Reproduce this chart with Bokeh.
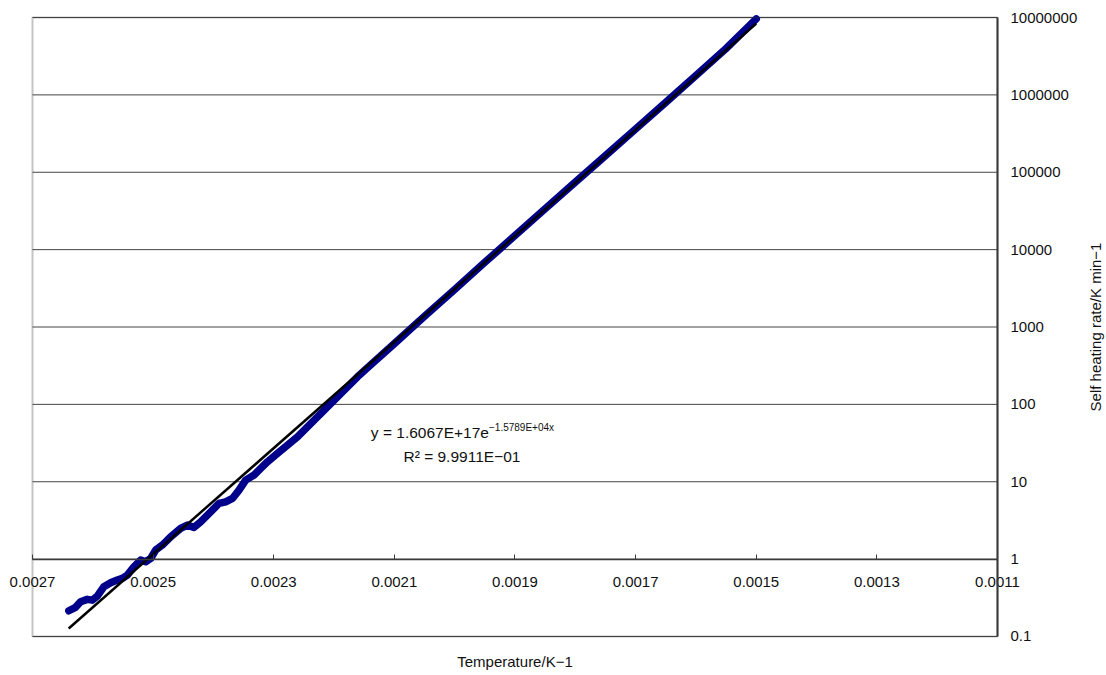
import math

import numpy as np
from bokeh.embed import file_html
from bokeh.models import BoxAnnotation, FixedTicker, Label, Range1d
from bokeh.plotting import figure
from bokeh.resources import INLINE

# Reciprocal temperature (1/K) and measured self-heating rate (K/min)
inv_temp = [
    0.0026398, 0.0026286, 0.0026203, 0.0026092, 0.0026009, 0.0025926,
    0.0025817, 0.0025705, 0.0025594, 0.0025511, 0.0025428, 0.0025319,
    0.0025207, 0.0025124, 0.0025041, 0.0024958, 0.0024847, 0.0024710,
    0.0024544, 0.0024432, 0.0024323, 0.0024212, 0.0024046, 0.0023908,
    0.0023797, 0.0023685, 0.0023576, 0.0023465, 0.0023327, 0.0023216,
    0.0023104, 0.0022938, 0.0022772, 0.0022607, 0.0022441, 0.0022275,
    0.0022109, 0.0021943, 0.0021777, 0.0021611, 0.00214, 0.0021,
    0.00205, 0.0020, 0.00195, 0.0019, 0.00185, 0.0018, 0.00175,
    0.0017, 0.00165, 0.0016, 0.00155, 0.0015,
]
heat_rate = [
    0.215, 0.238, 0.281, 0.302, 0.295, 0.333,
    0.439, 0.494, 0.536, 0.563, 0.621, 0.795,
    0.97, 0.923, 1.02, 1.31, 1.52, 1.94,
    2.49, 2.75, 2.57, 3.03, 4.08, 5.24,
    5.50, 6.08, 7.79, 10.5, 12.2, 14.9,
    18.1, 23.2, 29.7, 38.0, 51.2, 68.9,
    92.8, 125, 168, 227, 320, 610,
    1380, 3050, 6850, 15200, 33800, 74500, 164000,
    362000, 800000, 1780000, 3980000, 9600000,
]

# Exponential trend line y = a * exp(b * x)
fit_a = 1.6067e17
fit_b = -1.5789e4
fit_r2 = 0.99911
fit_x = [0.00264, 0.0015]
fit_y = [fit_a * np.exp(fit_b * x) for x in fit_x]

x_ticks = [0.0027, 0.0025, 0.0023, 0.0021, 0.0019, 0.0017, 0.0015, 0.0013, 0.0011]
x_tick_labels = ["0.0027", "0.0025", "0.0023", "0.0021", "0.0019",
                 "0.0017", "0.0015", "0.0013", "0.0011"]
y_ticks = [0.1, 1, 10, 100, 1000, 10000, 100000, 1000000, 10000000]
y_tick_labels = ["0.1", "1", "10", "100", "1000", "10000", "100000",
                 "1000000", "10000000"]

x_title = "Temperature/K\u22121"
y_title = "Self heating rate/K min\u22121"

# Plot box limits; the canvas-wide ranges leave room around the box
# for the tick labels and titles, which are drawn inside the frame.
X_HI, X_LO = 0.0027, 0.0011
Y_LO, Y_HI = 0.1, 1e7

FONT = "Liberation Sans"
TXT = "#111111"
FRAME = "#3a3a3a"

p = figure(
    width=1106, height=675,
    x_range=Range1d(0.00275306, 0.00091927),
    y_range=Range1d(10 ** -1.50404, 10 ** 7.21971),
    y_axis_type="log", y_axis_location="right",
    output_backend="svg", toolbar_location=None, min_border=0,
)
p.background_fill_color = "white"
p.border_fill_color = "white"
p.outline_line_color = None
p.xgrid.visible = False
p.ygrid.visible = False

# Decade grid lines across the plot box
p.segment(x0=X_HI, x1=X_LO, y0=y_ticks, y1=y_ticks,
          line_color="#444444", line_width=1)

# Plot box
p.add_layout(BoxAnnotation(left=X_HI, right=X_LO, bottom=Y_LO, top=Y_HI,
                           fill_color=None, line_color=FRAME, line_width=2))

# Rate axis on the right edge of the box
ya = p.yaxis[0]
ya.fixed_location = X_LO
ya.bounds = (Y_LO, Y_HI)
ya.ticker = FixedTicker(ticks=y_ticks)
ya.major_label_overrides = dict(zip(y_ticks, y_tick_labels))
ya.major_tick_out = 0
ya.major_tick_in = 0
ya.minor_tick_line_color = None
ya.axis_line_color = FRAME
ya.axis_line_width = 2
ya.major_label_standoff = 13
ya.major_label_text_font = FONT
ya.major_label_text_font_size = "15px"
ya.major_label_text_color = TXT

# Temperature axis crossing the rate axis at 1
xa = p.xaxis[0]
xa.fixed_location = 1
xa.bounds = (X_LO, X_HI)
xa.ticker = FixedTicker(ticks=x_ticks)
xa.major_label_overrides = dict(zip(x_ticks, x_tick_labels))
xa.major_tick_in = 5
xa.major_tick_out = 0
xa.minor_tick_line_color = None
xa.axis_line_color = FRAME
xa.axis_line_width = 1.5
xa.major_tick_line_color = FRAME
xa.major_label_standoff = 18
xa.major_label_text_font = FONT
xa.major_label_text_font_size = "15px"
xa.major_label_text_color = TXT

# Axis titles
p.add_layout(Label(x=0.0019, y=0.04752, text=x_title,
                   text_align="center", text_baseline="middle",
                   text_font=FONT, text_font_size="15px", text_color=TXT))
p.add_layout(Label(x=0.0009375, y=1000, text=y_title, angle=math.pi / 2,
                   text_align="center", text_baseline="middle",
                   text_font=FONT, text_font_size="15px", text_color=TXT))

# Measured data and trend line
p.line(inv_temp, heat_rate, line_color="#00008b", line_width=7.5,
       line_join="round", line_cap="round")
p.line(fit_x, fit_y, line_color="black", line_width=2.5)

# Trend-line equation
eq_main = "y = %.4Ee" % fit_a
eq_exp = ("%.4Ex" % fit_b).replace("-", "\u2212")
eq_r2 = ("R\u00b2 = %.4E" % fit_r2).replace("-", "\u2212")
p.add_layout(Label(x=0.002139, y=43.7, text=eq_main, text_align="left",
                   text_baseline="middle", text_font=FONT,
                   text_font_size="15.5px", text_color=TXT))
p.add_layout(Label(x=0.0019431, y=50.8, text=eq_exp, text_align="left",
                   text_baseline="middle", text_font=FONT,
                   text_font_size="10px", text_color=TXT))
p.add_layout(Label(x=0.001988, y=21.4, text=eq_r2, text_align="center",
                   text_baseline="middle", text_font=FONT,
                   text_font_size="15.5px", text_color=TXT))

open("out.html", "w").write(file_html(p, INLINE))
